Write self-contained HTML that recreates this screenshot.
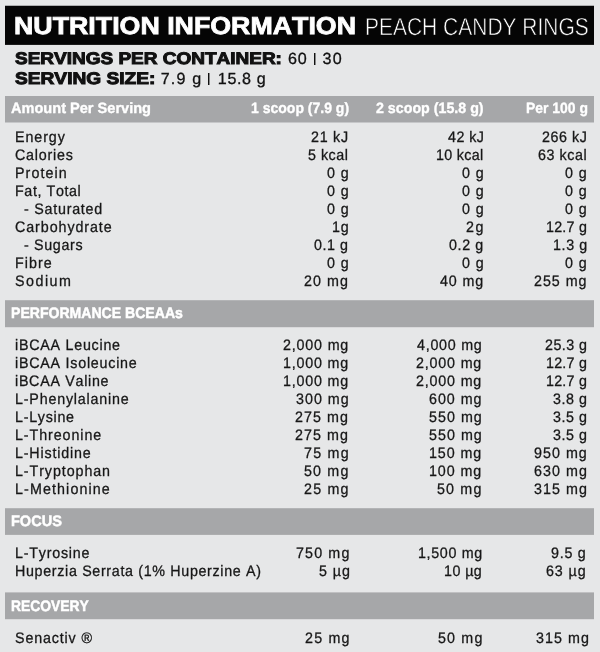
<!DOCTYPE html>
<html><head><meta charset="utf-8"><title>Nutrition Information</title>
<style>
html,body{margin:0;padding:0}
body{width:600px;height:652px;background:#e6e7e8;position:relative;overflow:hidden;font-family:"Liberation Sans",sans-serif;color:#171717}
#w{position:absolute;left:0;top:0;width:600px;height:652px;will-change:transform}
.hd{position:absolute;left:5px;width:589px;background:#050505}
.bar{position:absolute;left:5px;width:589px;background:#a6a7a9}
.p{position:absolute;width:1px;height:12px;background:#111;box-shadow:1px 0 0 rgba(17,17,17,.45)}
span{position:absolute;white-space:pre;transform-origin:0 50%;font-kerning:none;text-rendering:geometricPrecision;font-variant-ligatures:none}
</style></head><body><div id="w">
<div class="hd" style="top:6px;height:38px"></div><div class="hd" style="top:5px;height:1px;opacity:0.25"></div><div class="hd" style="top:44px;height:1px;opacity:0.90"></div>
<div class="bar" style="top:96px;height:26px"></div><div class="bar" style="top:122px;height:1px;opacity:0.50"></div><div class="bar" style="top:301px;height:26px"></div><div class="bar" style="top:300px;height:1px;opacity:0.80"></div><div class="bar" style="top:327px;height:1px;opacity:0.20"></div><div class="bar" style="top:509px;height:25px"></div><div class="bar" style="top:508px;height:1px;opacity:0.80"></div><div class="bar" style="top:534px;height:1px;opacity:0.90"></div><div class="bar" style="top:593px;height:26px"></div><div class="bar" style="top:592px;height:1px;opacity:0.60"></div><div class="bar" style="top:619px;height:1px;opacity:0.20"></div>
<div class="p" style="left:314px;top:53px"></div>
<div class="p" style="left:208px;top:73px"></div>
<span style="left:14.45px;top:11.00px;font-size:24.5px;line-height:32px;font-weight:bold;-webkit-text-stroke:0.8px #fff;color:#fff;transform:scaleX(1.0926)">NUTRITION INFORMATION</span>
<span style="left:364.72px;top:12.00px;font-size:24.5px;line-height:32px;-webkit-text-stroke:0.6px #050505;color:#fff;transform:scaleX(0.8562)">PEACH CANDY RINGS</span>
<span style="left:15.02px;top:48.00px;font-size:16.8px;line-height:22px;font-weight:bold;-webkit-text-stroke:1.0px #111;color:#111;transform:scaleX(1.1316)">SERVINGS PER CONTAINER:</span>
<span style="left:288.03px;top:49.00px;font-size:16.1px;line-height:21px;-webkit-text-stroke:0.3px #111;color:#111;letter-spacing:0.838px">60</span>
<span style="left:322.54px;top:49.00px;font-size:16.1px;line-height:21px;-webkit-text-stroke:0.3px #111;color:#111;letter-spacing:1.334px">30</span>
<span style="left:15.02px;top:68.00px;font-size:16.8px;line-height:22px;font-weight:bold;-webkit-text-stroke:1.0px #111;color:#111;transform:scaleX(1.1407)">SERVING SIZE:</span>
<span style="left:160.72px;top:69.00px;font-size:16.1px;line-height:21px;-webkit-text-stroke:0.3px #111;color:#111;letter-spacing:1.164px">7.9 g</span>
<span style="left:217.82px;top:69.00px;font-size:16.1px;line-height:21px;-webkit-text-stroke:0.3px #111;color:#111;letter-spacing:0.620px">15.8 g</span>
<span style="left:11.41px;top:99.00px;font-size:14.9px;line-height:20px;font-weight:bold;-webkit-text-stroke:0.35px #fff;color:#fff;transform:scaleX(0.9781)">Amount Per Serving</span>
<span style="left:251.08px;top:99.00px;font-size:14.9px;line-height:20px;font-weight:bold;-webkit-text-stroke:0.35px #fff;color:#fff;transform:scaleX(0.9409)">1 scoop (7.9 g)</span>
<span style="left:375.87px;top:99.00px;font-size:14.9px;line-height:20px;font-weight:bold;-webkit-text-stroke:0.35px #fff;color:#fff;transform:scaleX(0.9561)">2 scoop (15.8 g)</span>
<span style="left:525.73px;top:99.00px;font-size:14.9px;line-height:20px;font-weight:bold;-webkit-text-stroke:0.35px #fff;color:#fff;transform:scaleX(0.9347)">Per 100 g</span>
<span style="left:11.09px;top:304.00px;font-size:15.1px;line-height:20px;font-weight:bold;-webkit-text-stroke:0.5px #fff;color:#fff;transform:scaleX(0.9316)">PERFORMANCE BCEAAs</span>
<span style="left:10.97px;top:512.00px;font-size:15.1px;line-height:20px;font-weight:bold;-webkit-text-stroke:0.5px #fff;color:#fff;transform:scaleX(0.9623)">FOCUS</span>
<span style="left:10.90px;top:597.00px;font-size:15.1px;line-height:20px;font-weight:bold;-webkit-text-stroke:0.5px #fff;color:#fff;transform:scaleX(0.9179)">RECOVERY</span>
<span style="left:14.87px;top:128.00px;font-size:15.2px;line-height:20px;-webkit-text-stroke:0.3px #171717;letter-spacing:0.989px;transform:scaleX(0.9400)">Energy</span>
<span style="left:311.32px;top:128.00px;font-size:15.2px;line-height:20px;-webkit-text-stroke:0.3px #171717;letter-spacing:0.784px;transform:scaleX(0.9400)">21 kJ</span>
<span style="left:447.71px;top:128.00px;font-size:15.2px;line-height:20px;-webkit-text-stroke:0.3px #171717;letter-spacing:0.494px;transform:scaleX(0.9400)">42 kJ</span>
<span style="left:542.02px;top:128.00px;font-size:15.2px;line-height:20px;-webkit-text-stroke:0.3px #171717;letter-spacing:0.596px;transform:scaleX(0.9400)">266 kJ</span>
<span style="left:15.32px;top:146.00px;font-size:15.2px;line-height:20px;-webkit-text-stroke:0.3px #171717;letter-spacing:0.844px;transform:scaleX(0.9400)">Calories</span>
<span style="left:308.47px;top:146.00px;font-size:15.2px;line-height:20px;-webkit-text-stroke:0.3px #171717;letter-spacing:0.536px;transform:scaleX(0.9400)">5 kcal</span>
<span style="left:436.45px;top:146.00px;font-size:15.2px;line-height:20px;-webkit-text-stroke:0.3px #171717;letter-spacing:0.335px;transform:scaleX(0.9400)">10 kcal</span>
<span style="left:538.22px;top:146.00px;font-size:15.2px;line-height:20px;-webkit-text-stroke:0.3px #171717;letter-spacing:0.590px;transform:scaleX(0.9400)">63 kcal</span>
<span style="left:14.87px;top:164.00px;font-size:15.2px;line-height:20px;-webkit-text-stroke:0.3px #171717;letter-spacing:1.161px;transform:scaleX(0.9400)">Protein</span>
<span style="left:326.68px;top:164.00px;font-size:15.2px;line-height:20px;-webkit-text-stroke:0.3px #171717;letter-spacing:0.923px;transform:scaleX(0.9400)">0 g</span>
<span style="left:461.98px;top:164.00px;font-size:15.2px;line-height:20px;-webkit-text-stroke:0.3px #171717;letter-spacing:0.923px;transform:scaleX(0.9400)">0 g</span>
<span style="left:565.18px;top:164.00px;font-size:15.2px;line-height:20px;-webkit-text-stroke:0.3px #171717;letter-spacing:0.923px;transform:scaleX(0.9400)">0 g</span>
<span style="left:14.87px;top:182.00px;font-size:15.2px;line-height:20px;-webkit-text-stroke:0.3px #171717;letter-spacing:0.650px;transform:scaleX(0.9400)">Fat, Total</span>
<span style="left:326.68px;top:182.00px;font-size:15.2px;line-height:20px;-webkit-text-stroke:0.3px #171717;letter-spacing:0.923px;transform:scaleX(0.9400)">0 g</span>
<span style="left:461.98px;top:182.00px;font-size:15.2px;line-height:20px;-webkit-text-stroke:0.3px #171717;letter-spacing:0.923px;transform:scaleX(0.9400)">0 g</span>
<span style="left:565.18px;top:182.00px;font-size:15.2px;line-height:20px;-webkit-text-stroke:0.3px #171717;letter-spacing:0.923px;transform:scaleX(0.9400)">0 g</span>
<span style="left:23.81px;top:200.00px;font-size:15.2px;line-height:20px;-webkit-text-stroke:0.3px #171717;letter-spacing:0.807px;transform:scaleX(0.9400)">- Saturated</span>
<span style="left:326.68px;top:200.00px;font-size:15.2px;line-height:20px;-webkit-text-stroke:0.3px #171717;letter-spacing:0.923px;transform:scaleX(0.9400)">0 g</span>
<span style="left:461.98px;top:200.00px;font-size:15.2px;line-height:20px;-webkit-text-stroke:0.3px #171717;letter-spacing:0.923px;transform:scaleX(0.9400)">0 g</span>
<span style="left:565.18px;top:200.00px;font-size:15.2px;line-height:20px;-webkit-text-stroke:0.3px #171717;letter-spacing:0.923px;transform:scaleX(0.9400)">0 g</span>
<span style="left:15.32px;top:218.00px;font-size:15.2px;line-height:20px;-webkit-text-stroke:0.3px #171717;letter-spacing:0.987px;transform:scaleX(0.9400)">Carbohydrate</span>
<span style="left:331.55px;top:218.00px;font-size:15.2px;line-height:20px;-webkit-text-stroke:0.3px #171717;letter-spacing:0.888px;transform:scaleX(0.9400)">1g</span>
<span style="left:466.12px;top:218.00px;font-size:15.2px;line-height:20px;-webkit-text-stroke:0.3px #171717;letter-spacing:1.665px;transform:scaleX(0.9400)">2g</span>
<span style="left:545.85px;top:218.00px;font-size:15.2px;line-height:20px;-webkit-text-stroke:0.3px #171717;letter-spacing:0.256px;transform:scaleX(0.9400)">12.7 g</span>
<span style="left:23.81px;top:236.00px;font-size:15.2px;line-height:20px;-webkit-text-stroke:0.3px #171717;letter-spacing:0.695px;transform:scaleX(0.9400)">- Sugars</span>
<span style="left:314.28px;top:236.00px;font-size:15.2px;line-height:20px;-webkit-text-stroke:0.3px #171717;letter-spacing:0.590px;transform:scaleX(0.9400)">0.1 g</span>
<span style="left:449.28px;top:236.00px;font-size:15.2px;line-height:20px;-webkit-text-stroke:0.3px #171717;letter-spacing:0.670px;transform:scaleX(0.9400)">0.2 g</span>
<span style="left:552.55px;top:236.00px;font-size:15.2px;line-height:20px;-webkit-text-stroke:0.3px #171717;letter-spacing:0.651px;transform:scaleX(0.9400)">1.3 g</span>
<span style="left:14.87px;top:254.00px;font-size:15.2px;line-height:20px;-webkit-text-stroke:0.3px #171717;letter-spacing:1.110px;transform:scaleX(0.9400)">Fibre</span>
<span style="left:326.68px;top:254.00px;font-size:15.2px;line-height:20px;-webkit-text-stroke:0.3px #171717;letter-spacing:0.923px;transform:scaleX(0.9400)">0 g</span>
<span style="left:461.98px;top:254.00px;font-size:15.2px;line-height:20px;-webkit-text-stroke:0.3px #171717;letter-spacing:0.923px;transform:scaleX(0.9400)">0 g</span>
<span style="left:565.18px;top:254.00px;font-size:15.2px;line-height:20px;-webkit-text-stroke:0.3px #171717;letter-spacing:0.923px;transform:scaleX(0.9400)">0 g</span>
<span style="left:15.39px;top:272.00px;font-size:15.2px;line-height:20px;-webkit-text-stroke:0.3px #171717;letter-spacing:1.588px;transform:scaleX(0.9400)">Sodium</span>
<span style="left:304.42px;top:272.00px;font-size:15.2px;line-height:20px;-webkit-text-stroke:0.3px #171717;letter-spacing:1.103px;transform:scaleX(0.9400)">20 mg</span>
<span style="left:440.31px;top:272.00px;font-size:15.2px;line-height:20px;-webkit-text-stroke:0.3px #171717;letter-spacing:0.946px;transform:scaleX(0.9400)">40 mg</span>
<span style="left:534.22px;top:272.00px;font-size:15.2px;line-height:20px;-webkit-text-stroke:0.3px #171717;letter-spacing:1.043px;transform:scaleX(0.9400)">255 mg</span>
<span style="left:15.19px;top:336.00px;font-size:15.2px;line-height:20px;-webkit-text-stroke:0.3px #171717;letter-spacing:0.798px;transform:scaleX(0.9400)">iBCAA Leucine</span>
<span style="left:282.92px;top:336.00px;font-size:15.2px;line-height:20px;-webkit-text-stroke:0.3px #171717;letter-spacing:0.879px;transform:scaleX(0.9400)">2,000 mg</span>
<span style="left:417.01px;top:336.00px;font-size:15.2px;line-height:20px;-webkit-text-stroke:0.3px #171717;letter-spacing:0.789px;transform:scaleX(0.9400)">4,000 mg</span>
<span style="left:545.02px;top:336.00px;font-size:15.2px;line-height:20px;-webkit-text-stroke:0.3px #171717;letter-spacing:0.496px;transform:scaleX(0.9400)">25.3 g</span>
<span style="left:15.19px;top:354.00px;font-size:15.2px;line-height:20px;-webkit-text-stroke:0.3px #171717;letter-spacing:0.810px;transform:scaleX(0.9400)">iBCAA Isoleucine</span>
<span style="left:283.15px;top:354.00px;font-size:15.2px;line-height:20px;-webkit-text-stroke:0.3px #171717;letter-spacing:0.844px;transform:scaleX(0.9400)">1,000 mg</span>
<span style="left:416.42px;top:354.00px;font-size:15.2px;line-height:20px;-webkit-text-stroke:0.3px #171717;letter-spacing:0.879px;transform:scaleX(0.9400)">2,000 mg</span>
<span style="left:546.15px;top:354.00px;font-size:15.2px;line-height:20px;-webkit-text-stroke:0.3px #171717;letter-spacing:0.256px;transform:scaleX(0.9400)">12.7 g</span>
<span style="left:15.19px;top:372.00px;font-size:15.2px;line-height:20px;-webkit-text-stroke:0.3px #171717;letter-spacing:0.758px;transform:scaleX(0.9400)">iBCAA Valine</span>
<span style="left:283.15px;top:372.00px;font-size:15.2px;line-height:20px;-webkit-text-stroke:0.3px #171717;letter-spacing:0.844px;transform:scaleX(0.9400)">1,000 mg</span>
<span style="left:416.42px;top:372.00px;font-size:15.2px;line-height:20px;-webkit-text-stroke:0.3px #171717;letter-spacing:0.879px;transform:scaleX(0.9400)">2,000 mg</span>
<span style="left:546.15px;top:372.00px;font-size:15.2px;line-height:20px;-webkit-text-stroke:0.3px #171717;letter-spacing:0.256px;transform:scaleX(0.9400)">12.7 g</span>
<span style="left:14.97px;top:390.00px;font-size:15.2px;line-height:20px;-webkit-text-stroke:0.3px #171717;letter-spacing:0.863px;transform:scaleX(0.9400)">L-Phenylalanine</span>
<span style="left:295.60px;top:390.00px;font-size:15.2px;line-height:20px;-webkit-text-stroke:0.3px #171717;letter-spacing:1.069px;transform:scaleX(0.9400)">300 mg</span>
<span style="left:429.22px;top:390.00px;font-size:15.2px;line-height:20px;-webkit-text-stroke:0.3px #171717;letter-spacing:1.044px;transform:scaleX(0.9400)">600 mg</span>
<span style="left:553.20px;top:390.00px;font-size:15.2px;line-height:20px;-webkit-text-stroke:0.3px #171717;letter-spacing:0.560px;transform:scaleX(0.9400)">3.8 g</span>
<span style="left:14.97px;top:408.00px;font-size:15.2px;line-height:20px;-webkit-text-stroke:0.3px #171717;letter-spacing:0.763px;transform:scaleX(0.9400)">L-Lysine</span>
<span style="left:295.42px;top:408.00px;font-size:15.2px;line-height:20px;-webkit-text-stroke:0.3px #171717;letter-spacing:1.107px;transform:scaleX(0.9400)">275 mg</span>
<span style="left:428.97px;top:408.00px;font-size:15.2px;line-height:20px;-webkit-text-stroke:0.3px #171717;letter-spacing:1.097px;transform:scaleX(0.9400)">550 mg</span>
<span style="left:553.20px;top:408.00px;font-size:15.2px;line-height:20px;-webkit-text-stroke:0.3px #171717;letter-spacing:0.560px;transform:scaleX(0.9400)">3.5 g</span>
<span style="left:14.97px;top:426.00px;font-size:15.2px;line-height:20px;-webkit-text-stroke:0.3px #171717;letter-spacing:0.988px;transform:scaleX(0.9400)">L-Threonine</span>
<span style="left:295.42px;top:426.00px;font-size:15.2px;line-height:20px;-webkit-text-stroke:0.3px #171717;letter-spacing:1.107px;transform:scaleX(0.9400)">275 mg</span>
<span style="left:428.97px;top:426.00px;font-size:15.2px;line-height:20px;-webkit-text-stroke:0.3px #171717;letter-spacing:1.097px;transform:scaleX(0.9400)">550 mg</span>
<span style="left:553.20px;top:426.00px;font-size:15.2px;line-height:20px;-webkit-text-stroke:0.3px #171717;letter-spacing:0.560px;transform:scaleX(0.9400)">3.5 g</span>
<span style="left:14.97px;top:444.00px;font-size:15.2px;line-height:20px;-webkit-text-stroke:0.3px #171717;letter-spacing:0.886px;transform:scaleX(0.9400)">L-Histidine</span>
<span style="left:303.61px;top:444.00px;font-size:15.2px;line-height:20px;-webkit-text-stroke:0.3px #171717;letter-spacing:1.319px;transform:scaleX(0.9400)">75 mg</span>
<span style="left:429.45px;top:444.00px;font-size:15.2px;line-height:20px;-webkit-text-stroke:0.3px #171717;letter-spacing:0.994px;transform:scaleX(0.9400)">150 mg</span>
<span style="left:534.27px;top:444.00px;font-size:15.2px;line-height:20px;-webkit-text-stroke:0.3px #171717;letter-spacing:1.096px;transform:scaleX(0.9400)">950 mg</span>
<span style="left:14.97px;top:462.00px;font-size:15.2px;line-height:20px;-webkit-text-stroke:0.3px #171717;letter-spacing:0.980px;transform:scaleX(0.9400)">L-Tryptophan</span>
<span style="left:303.87px;top:462.00px;font-size:15.2px;line-height:20px;-webkit-text-stroke:0.3px #171717;letter-spacing:1.250px;transform:scaleX(0.9400)">50 mg</span>
<span style="left:429.45px;top:462.00px;font-size:15.2px;line-height:20px;-webkit-text-stroke:0.3px #171717;letter-spacing:0.994px;transform:scaleX(0.9400)">100 mg</span>
<span style="left:534.22px;top:462.00px;font-size:15.2px;line-height:20px;-webkit-text-stroke:0.3px #171717;letter-spacing:1.108px;transform:scaleX(0.9400)">630 mg</span>
<span style="left:14.97px;top:480.00px;font-size:15.2px;line-height:20px;-webkit-text-stroke:0.3px #171717;letter-spacing:1.182px;transform:scaleX(0.9400)">L-Methionine</span>
<span style="left:303.72px;top:480.00px;font-size:15.2px;line-height:20px;-webkit-text-stroke:0.3px #171717;letter-spacing:1.289px;transform:scaleX(0.9400)">25 mg</span>
<span style="left:437.37px;top:480.00px;font-size:15.2px;line-height:20px;-webkit-text-stroke:0.3px #171717;letter-spacing:1.250px;transform:scaleX(0.9400)">50 mg</span>
<span style="left:534.20px;top:480.00px;font-size:15.2px;line-height:20px;-webkit-text-stroke:0.3px #171717;letter-spacing:1.112px;transform:scaleX(0.9400)">315 mg</span>
<span style="left:14.97px;top:544.00px;font-size:15.2px;line-height:20px;-webkit-text-stroke:0.3px #171717;letter-spacing:0.831px;transform:scaleX(0.9400)">L-Tyrosine</span>
<span style="left:296.41px;top:544.00px;font-size:15.2px;line-height:20px;-webkit-text-stroke:0.3px #171717;letter-spacing:1.216px;transform:scaleX(0.9400)">750 mg</span>
<span style="left:417.65px;top:544.00px;font-size:15.2px;line-height:20px;-webkit-text-stroke:0.3px #171717;letter-spacing:0.707px;transform:scaleX(0.9400)">1,500 mg</span>
<span style="left:550.67px;top:544.00px;font-size:15.2px;line-height:20px;-webkit-text-stroke:0.3px #171717;letter-spacing:0.806px;transform:scaleX(0.9400)">9.5 g</span>
<span style="left:14.97px;top:562.00px;font-size:15.2px;line-height:20px;-webkit-text-stroke:0.3px #171717;letter-spacing:0.713px;transform:scaleX(0.9400)">Huperzia Serrata (1% Huperzine A)</span>
<span style="left:318.87px;top:562.00px;font-size:15.2px;line-height:20px;-webkit-text-stroke:0.3px #171717;letter-spacing:0.999px;transform:scaleX(0.9400)">5 µg</span>
<span style="left:444.05px;top:562.00px;font-size:15.2px;line-height:20px;-webkit-text-stroke:0.3px #171717;letter-spacing:0.475px;transform:scaleX(0.9400)">10 µg</span>
<span style="left:545.82px;top:562.00px;font-size:15.2px;line-height:20px;-webkit-text-stroke:0.3px #171717;letter-spacing:0.964px;transform:scaleX(0.9400)">63 µg</span>
<span style="left:15.39px;top:629.00px;font-size:15.2px;line-height:20px;-webkit-text-stroke:0.3px #171717;letter-spacing:0.909px;transform:scaleX(0.9400)">Senactiv ®</span>
<span style="left:305.22px;top:629.00px;font-size:15.2px;line-height:20px;-webkit-text-stroke:0.3px #171717;letter-spacing:1.289px;transform:scaleX(0.9400)">25 mg</span>
<span style="left:438.37px;top:629.00px;font-size:15.2px;line-height:20px;-webkit-text-stroke:0.3px #171717;letter-spacing:1.250px;transform:scaleX(0.9400)">50 mg</span>
<span style="left:535.50px;top:629.00px;font-size:15.2px;line-height:20px;-webkit-text-stroke:0.3px #171717;letter-spacing:1.112px;transform:scaleX(0.9400)">315 mg</span>
</div></body></html>
